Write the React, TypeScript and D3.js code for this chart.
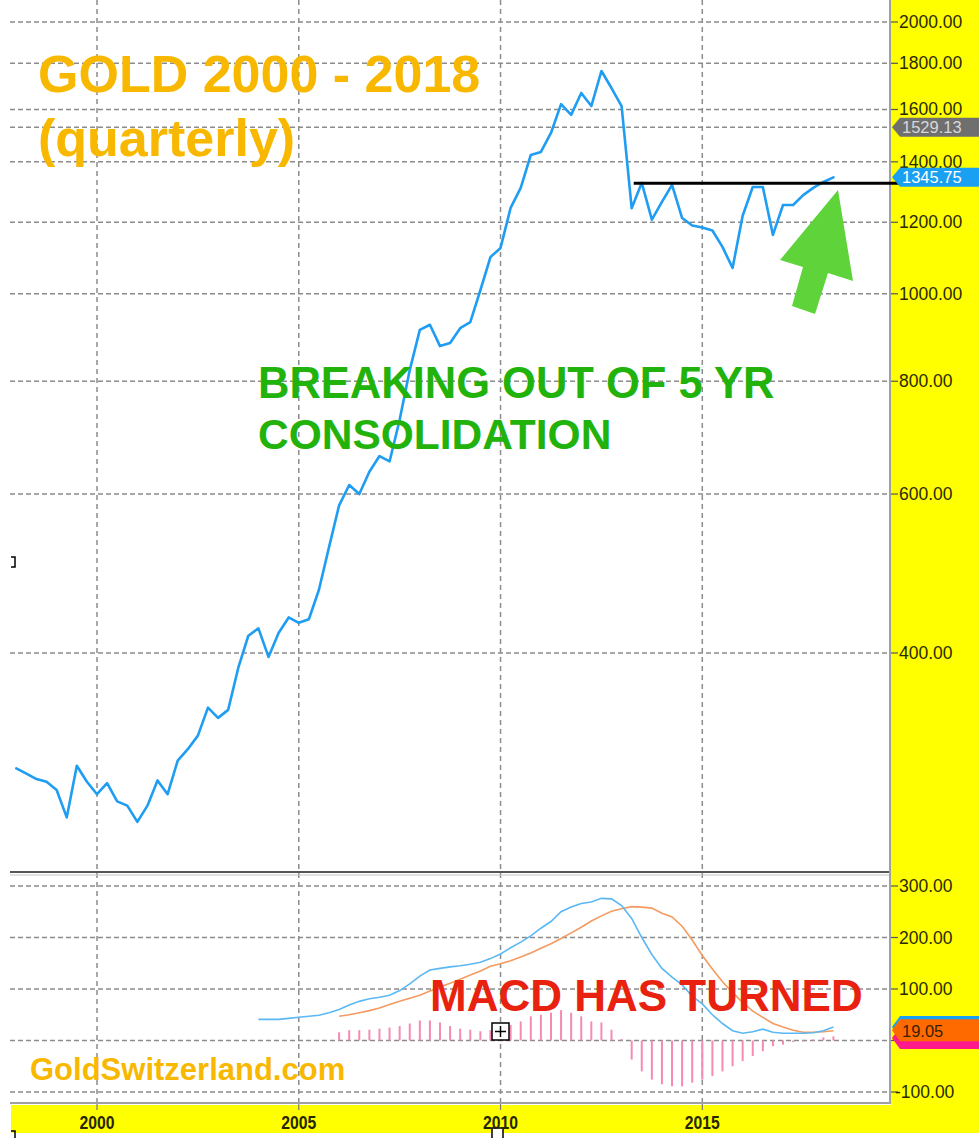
import React from 'react';
import * as d3 from 'd3';

const W = 979;
const H = 1138;

// quarterly closes, first point = 1998 Q1, last = 2018 Q2 (live)
const startYear = 1998;
const closes = [
  298, 294, 290, 288,
  282, 263, 300, 288,
  279, 287, 274, 271,
  260, 271, 289, 279,
  304, 313, 324, 348,
  339, 346, 385, 418,
  426, 396, 421, 438,
  432, 436, 470, 524,
  583, 614, 600, 635,
  661, 652, 725, 823,
  912, 924, 875, 882,
  916, 930, 1009, 1098,
  1124, 1245, 1310, 1425,
  1436, 1507, 1622, 1578,
  1669, 1614, 1765, 1690,
  1614, 1244, 1327, 1208,
  1264, 1320, 1213, 1190,
  1184, 1175, 1127, 1068,
  1220, 1313, 1313, 1162,
  1254, 1254, 1286, 1310,
  1330, 1345.75,
];

// MACD panel (index = quarter number from 1998 Q1)
const macdStart = 24;
const macdLine = [
  41, 41, 41, 43, 45, 47, 49, 54,
  60, 69, 76, 81, 84, 88, 97, 110,
  125, 137, 140, 143, 145, 148, 152, 159,
  168, 180, 191, 203, 218, 231, 250, 259,
  266, 269, 276, 275, 262, 237, 200, 167,
  140, 123, 108, 86, 71, 50, 33, 19,
  14, 17, 22, 16, 14, 14, 14, 15,
  19, 26,
];
const signalStart = 32;
const signalLine = [
  47, 50, 54, 58, 63, 70, 76, 82,
  88, 96, 104, 111, 119, 127, 135, 144,
  149, 155, 162, 170, 179, 188, 198, 209,
  220, 232, 242, 251, 256, 260, 259, 257,
  247, 240, 222, 195, 165, 139, 114, 93,
  74, 57, 45, 33, 26, 20, 16, 16,
  17, 19,
];
const histStart = 32;
const histogram = [
  16, 20, 20, 21, 23, 25, 28, 33,
  39, 39, 35, 28, 23, 21, 18, 20,
  25, 30, 37, 47, 50, 54, 59, 54,
  47, 37, 35, 21, 3, -37, -60, -76,
  -85, -89, -89, -82, -76, -69, -60, -50,
  -40, -30, -21, -11, -8, -3, -2, 2,
  6, 8,
];

const yearTicks = [2000, 2005, 2010, 2015];
const priceTicks = [2000, 1800, 1600, 1400, 1200, 1000, 800, 600, 400];
const macdTicks = [300, 200, 100, 0, -100];
const refPrice = 1529.13;
const lastPrice = 1345.75;
const signalLast = 19.05;
const resistance = [2013.3, 2020.15, 1326];

const FONT = "'Liberation Sans', Arial, Helvetica, sans-serif";
const PLOT_L = 10;
const PLOT_R = 890;

const x = d3.scaleLinear().domain([2000, 2015]).range([97, 702.3]);
const y = d3.scaleLog().domain([400, 2000]).range([653, 22]);
const ym = d3.scaleLinear().domain([-100, 300]).range([1092, 886]);
const dateOf = (i: number) => startYear + i * 0.25;

const priceLine = d3.line<number>()
  .x((_, i) => x(dateOf(i)))
  .y(d => y(d));

const macdPath = (vals: number[], start: number) =>
  d3.line<number>()
    .x((_, i) => x(dateOf(start + i)))
    .y(d => ym(d))(vals) as string;

// price tag with a left pointing nose
const tagPath = (yc: number, h: number) => {
  const x0 = 892;
  return `M${x0},${yc} L${x0 + 8},${yc - h / 2} L${W},${yc - h / 2} L${W},${yc + h / 2} L${x0 + 8},${yc + h / 2} Z`;
};

export default function App() {
  const dash = '5,3';
  const gridCol = '#8c8c8c';

  return (
    <svg width={W} height={H} style={{ position: 'absolute', left: 0, top: 0, display: 'block' }}
      fontFamily={FONT}>
      <rect width={W} height={H} fill="#fff" />
      {/* yellow axis areas */}
      <rect x={891} y={0} width={W - 891} height={1133} fill="#ffff00" />
      <rect x={11} y={1105} width={W - 11} height={28} fill="#ffff00" />

      {/* horizontal grid, main panel */}
      {[...priceTicks, refPrice].map(t => (
        <line key={'pg' + t} x1={PLOT_L} x2={PLOT_R} y1={y(t)} y2={y(t)}
          stroke={gridCol} strokeWidth={1.5} strokeDasharray={dash} />
      ))}
      {/* horizontal grid, macd panel */}
      {macdTicks.map(t => (
        <line key={'mg' + t} x1={PLOT_L} x2={PLOT_R} y1={ym(t)} y2={ym(t)}
          stroke={gridCol} strokeWidth={1.5} strokeDasharray={dash} />
      ))}
      {/* vertical grid */}
      {yearTicks.map(t => (
        <g key={'vg' + t}>
          <line x1={x(t)} x2={x(t)} y1={0} y2={1103}
            stroke={gridCol} strokeWidth={1.5} strokeDasharray="5,4" />
          <line x1={x(t)} x2={x(t)} y1={1103} y2={1110} stroke="#777" strokeWidth={1.2} />
        </g>
      ))}

      {/* panel borders */}
      <line x1={PLOT_L} x2={PLOT_R} y1={872} y2={872} stroke="#555" strokeWidth={2} />
      <line x1={PLOT_L} x2={PLOT_R} y1={875} y2={875} stroke="#c4c4c4" strokeWidth={1} />
      <line x1={PLOT_L} x2={PLOT_R + 1} y1={1103} y2={1103} stroke="#a0a0a0" strokeWidth={2} />
      <line x1={PLOT_R} x2={PLOT_R} y1={0} y2={1104} stroke="#a0a0a0" strokeWidth={2} />

      {/* gold price */}
      <path d={priceLine(closes) as string} fill="none" stroke="#1f9df2" strokeWidth={2.6}
        strokeLinejoin="round" strokeLinecap="round" />

      {/* resistance line */}
      <line x1={x(resistance[0])} x2={x(resistance[1])} y1={y(resistance[2])} y2={y(resistance[2])}
        stroke="#000" strokeWidth={3} />

      {/* green arrow */}
      <polygon points="838,190 780,260 803,267 792,306 815,314 828,273 853,281"
        fill="#5fd33a" />

      {/* macd histogram */}
      {histogram.map((v, i) => (
        <line key={'h' + i} x1={x(dateOf(histStart + i))} x2={x(dateOf(histStart + i))}
          y1={ym(0)} y2={ym(v)} stroke="#f58ab5" strokeWidth={2} />
      ))}
      <path d={macdPath(signalLine, signalStart)} fill="none" stroke="#f59a60" strokeWidth={1.6} />
      <path d={macdPath(macdLine, macdStart)} fill="none" stroke="#5ab8f5" strokeWidth={1.6} />

      {/* annotations */}
      <text x={38} y={92} fontSize={52} fontWeight="bold" fill="#f9b800">GOLD 2000 - 2018</text>
      <text x={38} y={156} fontSize={52} fontWeight="bold" fill="#f9b800">(quarterly)</text>
      <text x={258} y={398} fontSize={43.5} fontWeight="bold" fill="#22b20c">BREAKING OUT OF 5 YR</text>
      <text x={258} y={449} fontSize={42.5} fontWeight="bold" fill="#22b20c">CONSOLIDATION</text>
      <text x={430} y={1011} fontSize={44} fontWeight="bold" fill="#e8220e">MACD HAS TURNED</text>
      <text x={30} y={1080} fontSize={31} fontWeight="bold" fill="#f9b800">GoldSwitzerland.com</text>

      {/* crosshair marker */}
      <rect x={492} y={1023} width={17} height={17} fill="#fff" stroke="#000" strokeWidth={1.5} />
      <line x1={495} x2={506} y1={1031.5} y2={1031.5} stroke="#000" strokeWidth={1.5} />
      <line x1={500.5} x2={500.5} y1={1026} y2={1037} stroke="#000" strokeWidth={1.5} />
      <path d="M11,557 L15,557 L15,567 L11,567" fill="none" stroke="#000" strokeWidth={1.5} />
      <path d="M11,1131 L15,1131 L15,1138" fill="none" stroke="#000" strokeWidth={1.5} />
      <rect x={492} y={1128} width={11} height={12} fill="#fff" stroke="#000" strokeWidth={1.5} />

      {/* right axis, price */}
      {priceTicks.map(t => (
        <g key={'pt' + t}>
          <line x1={891} x2={898} y1={y(t)} y2={y(t)} stroke="#555" strokeWidth={1.2} />
          <text x={899} y={y(t) + 6} fontSize={17.5} fill="#2b2b00">{t.toFixed(2)}</text>
        </g>
      ))}
      {/* right axis, macd */}
      {macdTicks.map(t => (
        <g key={'mt' + t}>
          <line x1={891} x2={898} y1={ym(t)} y2={ym(t)} stroke="#555" strokeWidth={1.2} />
          {t !== 0 && (
            <text x={t < 0 ? 895 : 899} y={ym(t) + 6} fontSize={17.5} fill="#2b2b00">{t.toFixed(2)}</text>
          )}
        </g>
      ))}

      {/* value tags */}
      <path d={tagPath(y(refPrice), 19)} fill="#6f6f6f" />
      <text x={902} y={y(refPrice) + 6} fontSize={16.5} fill="#d8d8d8">{refPrice.toFixed(2)}</text>
      <path d={tagPath(y(lastPrice), 19)} fill="#1aa0f2" />
      <text x={902} y={y(lastPrice) + 6} fontSize={16.5} fill="#fff">{lastPrice.toFixed(2)}</text>

      <path d={tagPath(ym(26), 22)} fill="#1aa0f2" />
      <path d={tagPath(ym(5), 22)} fill="#ff1a8c" />
      <path d={tagPath(ym(signalLast) - 0.5, 22)} fill="#ff6a00" />
      <text x={902} y={ym(signalLast) + 6} fontSize={16.5} fill="#3a2000">{signalLast.toFixed(2)}</text>

      {/* bottom year labels */}
      {yearTicks.map(t => (
        <text key={'yl' + t} x={x(t)} y={1129} fontSize={19} fontWeight="bold" fill="#262600"
          textAnchor="middle" textLength={35} lengthAdjust="spacingAndGlyphs">{t}</text>
      ))}
    </svg>
  );
}
